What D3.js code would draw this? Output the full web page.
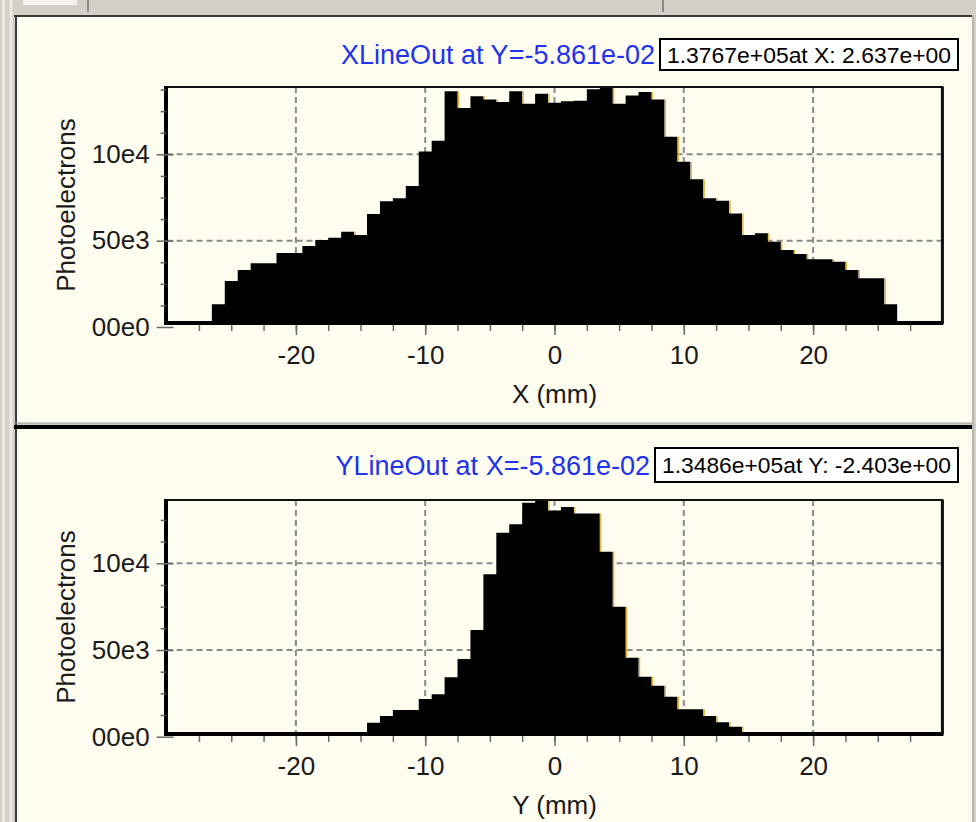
<!DOCTYPE html>
<html>
<head>
<meta charset="utf-8">
<script src="https://cdn.jsdelivr.net/npm/d3@7"></script>
<style>
  html, body { margin: 0; padding: 0; background: #d4d0c8; }
  svg { display: block; }
  text { font-family: "Liberation Sans", Arial, sans-serif; }
</style>
</head>
<body>
<svg id="chart" width="976" height="822"></svg>
<script>
// Bin centres (mm); each bin is 1 mm wide
const binCenters = d3.range(-26, 27);

// Horizontal line-out (photoelectrons per bin, X from -26 to 26 mm)
const xLineOut = [
  13140, 26630, 33000, 36870, 36870, 42850, 42850, 46900, 50370, 51720,
  55200, 53270, 65430, 72760, 74500, 81640, 101700, 107900, 136500, 126800,
  133700, 131800, 130300, 136500, 129300, 135100, 129900, 130700, 131000, 137670,
  139000, 129300, 134100, 136100, 131800, 110200, 95700, 85500, 74500, 73150,
  65800, 53270, 54230, 49400, 44580, 42270, 39180, 39180, 37830, 33000,
  28180, 28180, 13140
];

// Vertical line-out (photoelectrons per bin, Y from -26 to 26 mm)
const yLineOut = [
  0, 0, 0, 0, 0, 0, 0, 0, 0, 0,
  0, 0, 8070, 11940, 15400, 15400, 21740, 24450, 34250, 44810,
  61530, 93660, 117650, 122460, 134860, 136500, 130450, 132400, 128700, 128700,
  106700, 75000, 45560, 34600, 29410, 23070, 15800, 15800, 11940, 8300,
  5770, 0, 0, 0, 0, 0, 0, 0, 0, 0,
  0, 0, 0
];

const xDomain = [-30, 30];
const xMajorTicks = [-20, -10, 0, 10, 20];
const xMinorTicks = d3.range(-27.5, 27.6, 2.5);
const yMajorTicks = [0, 50000, 100000];
const yMinorStep = 12500;

const panels = [
  { title: "XLineOut at Y=-5.861e-02", readout: "1.3767e+05at X: 2.637e+00",
    xLabel: "X (mm)", values: xLineOut,
    frameTop: 87, frameBottom: 323, zeroY: 327,
    titleY: 64, boxY: 39, boxX: 660, boxH: 31 },
  { title: "YLineOut at X=-5.861e-02", readout: "1.3486e+05at Y: -2.403e+00",
    xLabel: "Y (mm)", values: yLineOut,
    frameTop: 500, frameBottom: 734, zeroY: 736.7,
    titleY: 475, boxY: 448, boxX: 655, boxH: 34 }
];

const plotLeft = 166.6, plotRight = 942.4;
const cream = "#fffcf0";

const svg = d3.select("#chart");

// ---- window chrome ----
svg.append("rect").attr("width", 976).attr("height", 822).attr("fill", "#d4d0c8");
svg.append("rect").attr("x", 23).attr("y", 0).attr("width", 54).attr("height", 5).attr("fill", "#f4f3ef");
svg.append("line").attr("x1", 88).attr("x2", 88).attr("y1", 0).attr("y2", 12).attr("stroke", "#707070").attr("stroke-width", 1.5);
svg.append("line").attr("x1", 663).attr("x2", 663).attr("y1", 0).attr("y2", 12).attr("stroke", "#707070").attr("stroke-width", 1.5);
[3.5, 11].forEach(x => svg.append("line").attr("x1", x).attr("x2", x).attr("y1", 0).attr("y2", 822)
  .attr("stroke", "#eceae4").attr("stroke-width", 3));

// panel backgrounds
svg.append("rect").attr("x", 15).attr("y", 15).attr("width", 957).attr("height", 408).attr("fill", cream);
svg.append("rect").attr("x", 15).attr("y", 428).attr("width", 957).attr("height", 394).attr("fill", cream);
// panel borders
svg.append("line").attr("x1", 14).attr("x2", 972).attr("y1", 16).attr("y2", 16).attr("stroke", "#3a3a3a").attr("stroke-width", 2);
svg.append("line").attr("x1", 16).attr("x2", 16).attr("y1", 15).attr("y2", 822).attr("stroke", "#3a3a3a").attr("stroke-width", 2);
svg.append("line").attr("x1", 14).attr("x2", 972).attr("y1", 423).attr("y2", 423).attr("stroke", "#9a9a9a").attr("stroke-width", 1);
svg.append("line").attr("x1", 14).attr("x2", 972).attr("y1", 427).attr("y2", 427).attr("stroke", "#000").attr("stroke-width", 4);
svg.append("line").attr("x1", 973).attr("x2", 973).attr("y1", 15).attr("y2", 822).attr("stroke", "#b8b5ae").attr("stroke-width", 2);

const x = d3.scaleLinear().domain(xDomain).range([plotLeft, plotRight]);

// two-digit mantissa exponent format: 00e0, 50e3, 10e4
function sciFormat(v) {
  if (v === 0) return "00e0";
  const e = Math.floor(Math.log10(v)) - 1;
  return Math.round(v / Math.pow(10, e)) + "e" + e;
}

panels.forEach((p, idx) => {
  const g = svg.append("g");
  const yMax = d3.max(p.values);
  const y = d3.scaleLinear().domain([0, yMax]).range([p.zeroY, p.frameTop]);

  const clipId = "clip" + idx;
  svg.append("clipPath").attr("id", clipId).append("rect")
    .attr("x", plotLeft).attr("y", p.frameTop)
    .attr("width", plotRight - plotLeft).attr("height", p.frameBottom + 2 - p.frameTop);

  // dashed grid
  const grid = g.append("g").attr("stroke", "#8a8a8a").attr("stroke-width", 2)
    .attr("stroke-dasharray", "6,4");
  xMajorTicks.forEach(t => grid.append("line")
    .attr("x1", x(t)).attr("x2", x(t)).attr("y1", p.frameTop).attr("y2", p.frameBottom));
  yMajorTicks.filter(t => t > 0).forEach(t => grid.append("line")
    .attr("x1", plotLeft).attr("x2", plotRight).attr("y1", y(t)).attr("y2", y(t)));

  // histogram as a step area
  const pts = binCenters.map((c, i) => ({ e: c - 0.5, v: p.values[i] }));
  pts.push({ e: binCenters[binCenters.length - 1] + 0.5, v: p.values[p.values.length - 1] });
  const area = d3.area()
    .curve(d3.curveStepAfter)
    .x(d => x(d.e))
    .y0(y(0))
    .y1(d => y(d.v));

  const hist = g.append("g").attr("clip-path", `url(#${clipId})`);
  // amber edge on falling steps
  binCenters.forEach((c, i) => {
    if (i < p.values.length - 1 && p.values[i] > p.values[i + 1] && p.values[i] > 0) {
      hist.append("line")
        .attr("x1", x(c + 0.5) + 1).attr("x2", x(c + 0.5) + 1)
        .attr("y1", y(p.values[i])).attr("y2", y(p.values[i + 1]))
        .attr("stroke", "#e2b33a").attr("stroke-width", 1.3);
    }
  });
  hist.append("path").datum(pts).attr("d", area).attr("fill", "#000");

  // frame
  g.append("rect").attr("x", plotLeft).attr("y", p.frameTop)
    .attr("width", plotRight - plotLeft).attr("height", p.frameBottom - p.frameTop)
    .attr("fill", "none").attr("stroke", "#111").attr("stroke-width", 2);
  g.append("line").attr("x1", plotLeft - 0.6).attr("x2", plotLeft - 0.6)
    .attr("y1", p.frameTop - 1).attr("y2", p.frameBottom + 2)
    .attr("stroke", "#000").attr("stroke-width", 4);
  g.append("line").attr("x1", plotLeft - 2).attr("x2", plotRight + 1)
    .attr("y1", p.frameBottom).attr("y2", p.frameBottom)
    .attr("stroke", "#000").attr("stroke-width", 4);
  g.append("line").attr("x1", plotRight).attr("x2", plotRight)
    .attr("y1", p.frameTop).attr("y2", p.frameBottom)
    .attr("stroke", "#111").attr("stroke-width", 3);

  // x axis: minor + major ticks, labels
  const xMinorAxis = d3.axisBottom(x).tickValues(xMinorTicks).tickSize(6).tickFormat("");
  const xMinorG = g.append("g").attr("transform", `translate(0,${p.frameBottom + 2})`).call(xMinorAxis);
  xMinorG.select(".domain").remove();
  xMinorG.selectAll(".tick line").attr("stroke", "#6a6a6a").attr("stroke-width", 1.5);

  const xAxis = d3.axisBottom(x).tickValues(xMajorTicks).tickSize(10).tickPadding(26)
    .tickFormat(d => String(d));
  const xG = g.append("g").attr("transform", `translate(0,${p.frameBottom + 2})`).call(xAxis);
  xG.select(".domain").remove();
  xG.selectAll(".tick line").attr("stroke", "#6a6a6a").attr("stroke-width", 1.5);
  xG.selectAll(".tick text").attr("font-size", 26).attr("fill", "#1a1a1a")
    .attr("font-family", "'Liberation Sans', Arial, sans-serif").attr("dy", "0.1em");

  g.append("text").attr("x", x(0)).attr("y", p.frameBottom + 80)
    .attr("text-anchor", "middle").attr("font-size", 26).attr("fill", "#1a1a1a")
    .text(p.xLabel);

  // y axis: minor ticks on the left, major ticks crossing the frame
  const yMinorValues = d3.range(0, yMax + 1, yMinorStep).filter(v => v % 50000 !== 0);
  const yMinorG = g.append("g").attr("transform", `translate(${plotLeft - 1},0)`)
    .call(d3.axisLeft(y).tickValues(yMinorValues).tickSize(5).tickFormat(""));
  yMinorG.select(".domain").remove();
  yMinorG.selectAll(".tick line").attr("stroke", "#6a6a6a").attr("stroke-width", 1.5);

  const yG = g.append("g").attr("transform", `translate(${plotLeft + 7},0)`)
    .call(d3.axisLeft(y).tickValues(yMajorTicks).tickSize(17).tickPadding(7).tickFormat(sciFormat));
  yG.select(".domain").remove();
  yG.selectAll(".tick line").attr("stroke", "#6a6a6a").attr("stroke-width", 1.5);
  yG.selectAll(".tick text").attr("font-size", 26).attr("fill", "#1a1a1a")
    .attr("font-family", "'Liberation Sans', Arial, sans-serif");

  const midY = (p.frameTop + p.frameBottom) / 2;
  g.append("text").attr("transform", `translate(75,${midY}) rotate(-90)`)
    .attr("text-anchor", "middle").attr("font-size", 26).attr("fill", "#1a1a1a")
    .text("Photoelectrons");

  // title and cursor readout
  g.append("text").attr("x", p.boxX - 5).attr("y", p.titleY)
    .attr("text-anchor", "end").attr("font-size", 27).attr("fill", "#2233ee")
    .text(p.title);
  g.append("rect").attr("x", p.boxX).attr("y", p.boxY)
    .attr("width", 958 - p.boxX).attr("height", p.boxH)
    .attr("fill", "#fff").attr("stroke", "#000").attr("stroke-width", 2);
  g.append("text").attr("x", (p.boxX + 958) / 2).attr("y", p.boxY + p.boxH / 2 + 8)
    .attr("text-anchor", "middle").attr("font-size", 22).attr("fill", "#000")
    .attr("textLength", 958 - p.boxX - 14).attr("lengthAdjust", "spacingAndGlyphs")
    .text(p.readout);
});
</script>
</body>
</html>
